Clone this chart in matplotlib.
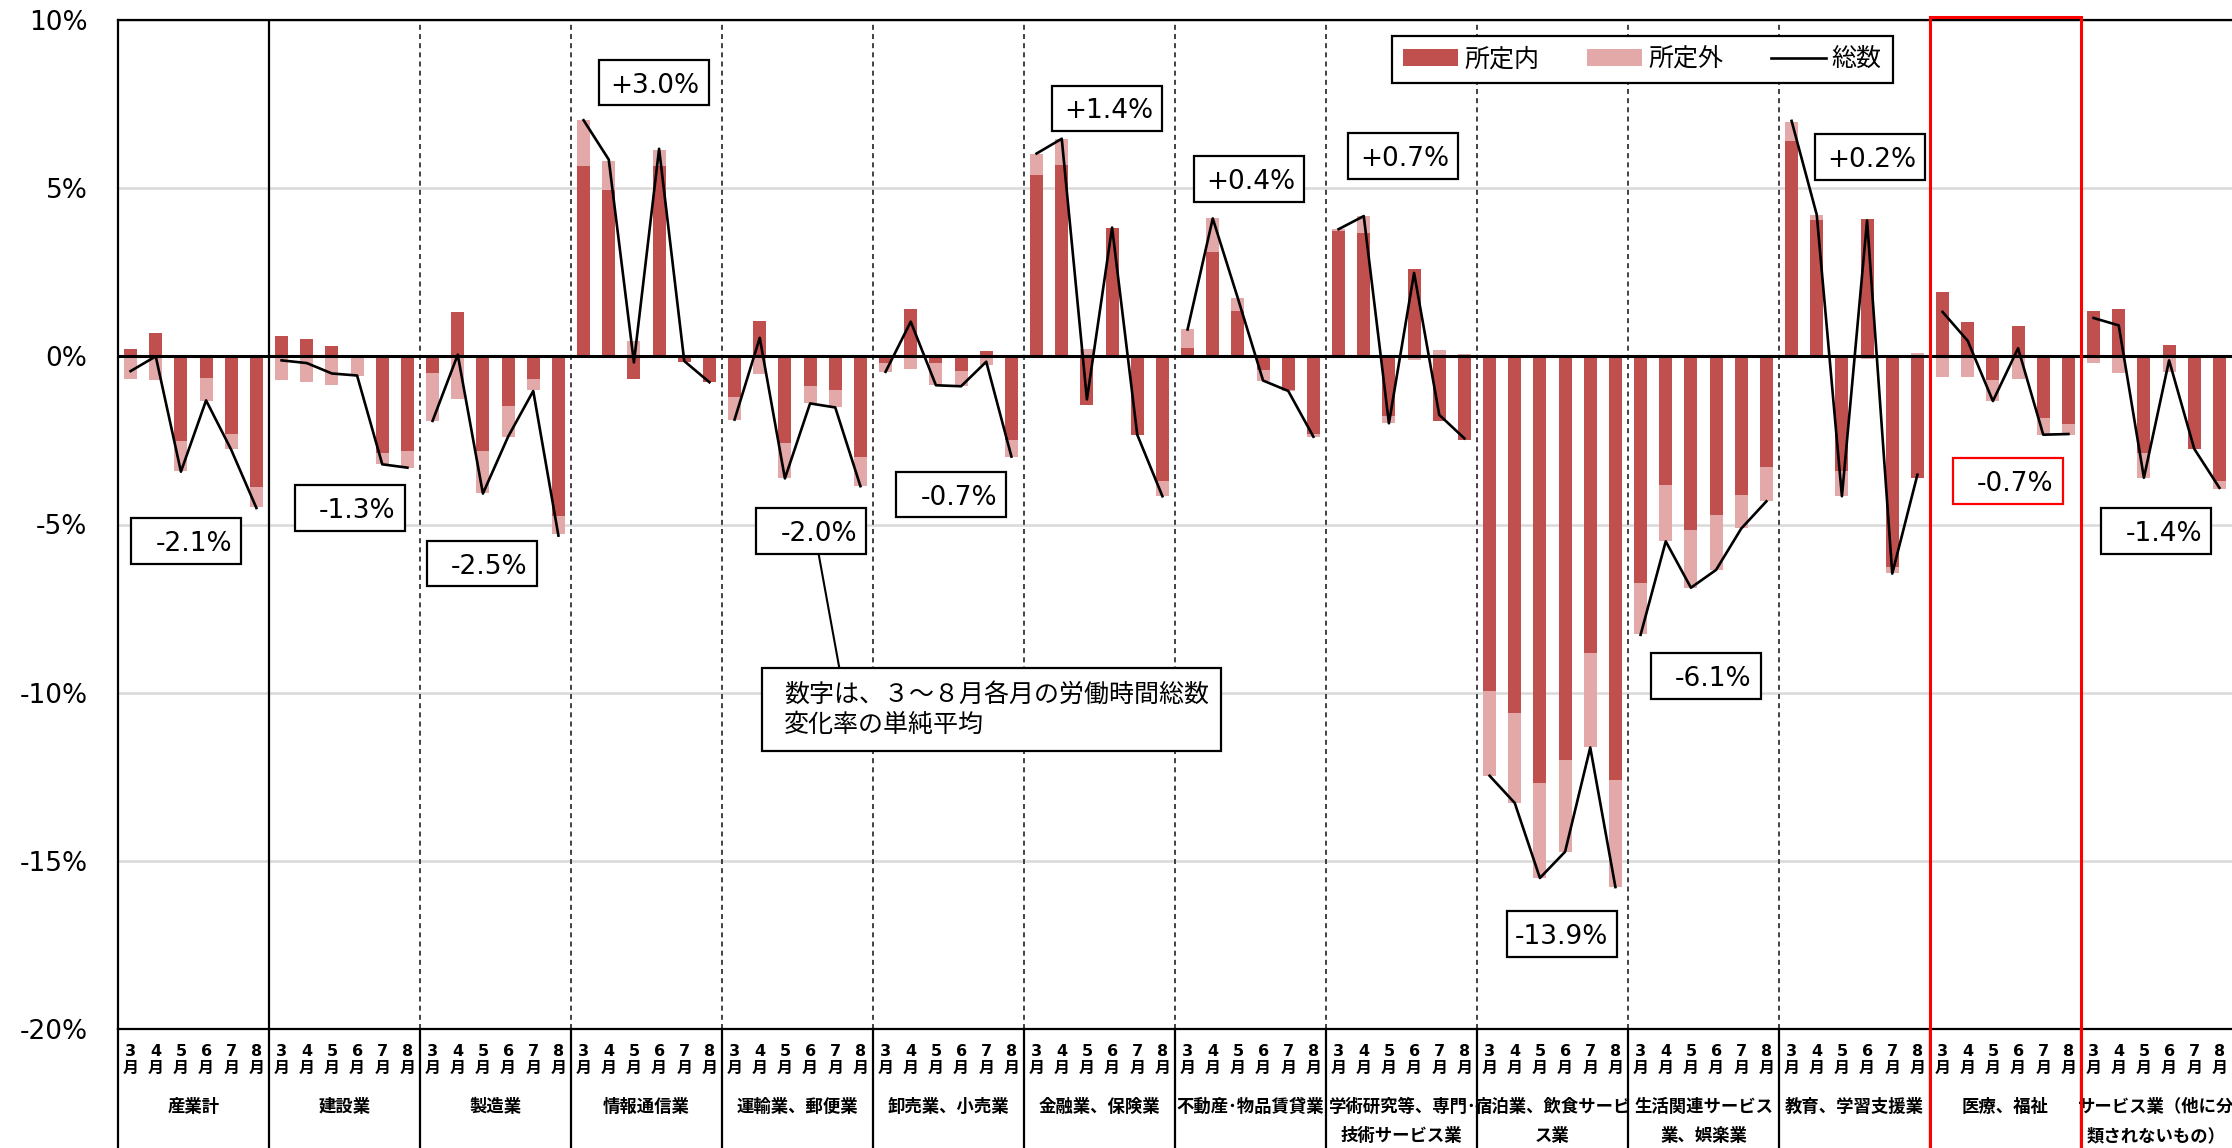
import numpy as np
import matplotlib
matplotlib.use('Agg')
import matplotlib.pyplot as plt
from matplotlib.patches import Rectangle

plt.rcParams['font.family'] = ['DejaVu Sans', 'Noto Sans CJK JP']

months = ['3', '4', '5', '6', '7', '8']
industries = ['産業計', '建設業', '製造業', '情報通信業', '運輸業、郵便業', '卸売業、小売業',
              '金融業、保険業', '不動産･物品賃貸業', '学術研究等、専門･\n技術サービス業',
              '宿泊業、飲食サービ\nス業', '生活関連サービス\n業、娯楽業', '教育、学習支援業',
              '医療、福祉', 'サービス業（他に分\n類されないもの）']

# 所定内 (scheduled hours), % change by month
shoteinai = [
    [0.21, 0.69, -2.52, -0.63, -2.30, -3.89],
    [0.59, 0.51, 0.32, -0.02, -2.87, -2.81],
    [-0.49, 1.31, -2.81, -1.48, -0.66, -4.76],
    [5.66, 4.94, -0.66, 5.66, -0.17, -0.77],
    [-1.20, 1.05, -2.58, -0.87, -1.00, -2.99],
    [-0.21, 1.40, -0.21, -0.43, 0.15, -2.50],
    [5.40, 5.69, -1.46, 3.83, -2.33, -3.72],
    [0.25, 3.10, 1.35, -0.41, -1.00, -2.31],
    [3.72, 3.67, -1.76, 2.59, -1.91, -2.50],
    [-9.95, -10.60, -12.69, -12.00, -8.82, -12.60],
    [-6.73, -3.82, -5.16, -4.73, -4.11, -3.29],
    [6.40, 4.06, -3.40, 4.08, -6.27, -3.63],
    [1.91, 1.03, -0.69, 0.89, -1.82, -2.02],
    [1.35, 1.40, -2.87, 0.35, -2.75, -3.72],
]
# 所定外 (overtime hours)
shoteigai = [
    [-0.66, -0.69, -0.88, -0.70, -0.45, -0.59],
    [-0.70, -0.75, -0.84, -0.55, -0.34, -0.50],
    [-1.43, -1.26, -1.25, -0.91, -0.34, -0.53],
    [1.36, 0.87, 0.45, 0.47, 0.03, 0.0],
    [-0.68, -0.52, -1.05, -0.53, -0.52, -0.87],
    [-0.25, -0.37, -0.65, -0.46, -0.27, -0.48],
    [0.63, 0.78, 0.21, 0.0, 0.04, -0.42],
    [0.55, 1.00, 0.37, -0.31, -0.03, -0.08],
    [0.06, 0.50, -0.21, -0.12, 0.18, 0.06],
    [-2.52, -2.68, -2.82, -2.73, -2.81, -3.18],
    [-1.53, -1.68, -1.72, -1.62, -0.99, -1.02],
    [0.58, 0.15, -0.74, -0.07, -0.17, 0.10],
    [-0.61, -0.60, -0.64, -0.66, -0.51, -0.31],
    [-0.20, -0.49, -0.74, -0.46, 0.0, -0.21],
]
# 総数 (total hours)
sousu = [
    [-0.44, 0.0, -3.43, -1.31, -2.78, -4.51],
    [-0.12, -0.20, -0.51, -0.57, -3.21, -3.31],
    [-1.92, 0.05, -4.08, -2.39, -1.03, -5.33],
    [7.02, 5.85, -0.18, 6.17, -0.14, -0.77],
    [-1.88, 0.55, -3.63, -1.40, -1.52, -3.86],
    [-0.46, 1.03, -0.86, -0.89, -0.16, -2.98],
    [6.03, 6.47, -1.28, 3.83, -2.33, -4.16],
    [0.80, 4.10, 1.72, -0.72, -1.03, -2.39],
    [3.78, 4.17, -1.99, 2.48, -1.74, -2.44],
    [-12.47, -13.28, -15.51, -14.73, -11.63, -15.78],
    [-8.28, -5.50, -6.88, -6.35, -5.12, -4.31],
    [7.00, 4.21, -4.16, 4.04, -6.46, -3.52],
    [1.32, 0.46, -1.33, 0.24, -2.33, -2.31],
    [1.14, 0.92, -3.61, -0.12, -2.75, -3.91],
]
avg_labels = ['-2.1%', '-1.3%', '-2.5%', '+3.0%', '-2.0%', '-0.7%', '+1.4%',
              '+0.4%', '+0.7%', '-13.9%', '-6.1%', '+0.2%', '-0.7%', '-1.4%']
# where the average boxes sit (slot, value)
avg_x = [2.22, 8.70, 13.95, 20.78, 27.04, 32.61, 38.79, 44.43, 50.55, 56.87, 62.58, 69.13, 74.58, 80.48]
avg_y = [-5.49, -4.50, -6.16, 8.14, -5.19, -4.11, 7.37, 5.27, 5.96, -17.18, -9.51, 5.93, -3.71, -5.19]
note = '数字は、３～８月各月の労働時間総数\n変化率の単純平均'

DARK = '#C0504D'
PINK = '#E2A9A8'
n_m = len(months)
n_g = len(industries)

fig = plt.figure(figsize=(22.32, 11.48), dpi=100)
ax = fig.add_axes([118/2232, 1 - 1029/1148, 2114/2232, 1009/1148])

handles = {}
for g in range(n_g):
    x = np.arange(n_m) + g*n_m
    d = np.array(shoteinai[g])
    p = np.array(shoteigai[g])
    bottom = np.where(np.sign(d) == np.sign(p), d, 0)
    b1 = ax.bar(x, d, width=0.52, color=DARK, zorder=2)
    b2 = ax.bar(x, p, bottom=bottom, width=0.52, color=PINK, zorder=2)
    ln, = ax.plot(x, sousu[g], color='black', lw=1.9, zorder=4)
    if g == 0:
        handles = {'所定内': b1, '所定外': b2, '総数': ln}

ax.set_xlim(-0.5, n_g*n_m - 0.5)
ax.set_ylim(-20, 10)
ax.axhline(0, color='black', lw=2.2, zorder=3)

ax.set_yticks(range(-20, 11, 5))
ax.set_yticklabels([f'{v}%' for v in range(-20, 11, 5)], fontsize=19)
ax.tick_params(axis='y', length=0, pad=22)
ax.set_xticks([])
ax.yaxis.grid(True, color='#D9D9D9', lw=1.8)
ax.set_axisbelow(True)
ax.spines['right'].set_visible(False)
for s in ['top', 'left', 'bottom']:
    ax.spines[s].set_linewidth(1.6)

xt = ax.get_xaxis_transform()
# group separators
for b in range(1, n_g):
    xb = b*n_m - 0.5
    if b == 1:
        ax.axvline(xb, color='black', lw=1.6, zorder=3)
    else:
        ax.axvline(xb, color='#222222', lw=1.2, ls=(0, (3, 2.5)), zorder=1)
    ax.plot([xb, xb], [0, -0.12], transform=xt, color='black', lw=1.6, clip_on=False)
ax.plot([-0.5, -0.5], [0, -0.12], transform=xt, color='black', lw=1.6, clip_on=False)

# highlight 医療、福祉
hi = industries.index('医療、福祉')
ax.add_patch(Rectangle((hi*n_m - 0.5, -0.12), n_m, 1.123, transform=xt, fill=False,
                       ec='#FF0000', lw=2.2, clip_on=False, zorder=6))

# month labels and industry names
for i in range(n_g*n_m):
    ax.text(i, -0.0307, months[i % n_m] + '\n月', transform=xt, ha='center', va='center',
            fontsize=11.5, fontweight='bold', linespacing=1.1)
for g, name in enumerate(industries):
    for k, line in enumerate(name.split('\n')):
        ax.text(g*n_m + 2.5, -0.0773 - k*0.0287, line, transform=xt, ha='center', va='center',
                fontsize=12.5, fontweight='bold', family=['Noto Sans CJK JP', 'DejaVu Sans'])

# average boxes
bw, bh = 4.37, 1.36
for g in range(n_g):
    ec = '#FF0000' if g == hi else 'black'
    ax.add_patch(Rectangle((avg_x[g] - bw/2, avg_y[g] - bh/2), bw, bh, fc='white', ec=ec,
                           lw=1.6, zorder=6))
    ax.text(avg_x[g] + bw/2 - 0.35, avg_y[g], avg_labels[g], ha='right', va='center_baseline',
            fontsize=19, zorder=7)

# note box with leader line
ax.plot([27.34, 28.16], [-5.88, -9.26], color='black', lw=1.5, zorder=5)
ax.add_patch(Rectangle((25.1, -11.74), 18.24, 2.48, fc='white', ec='black', lw=1.6, zorder=6))
ax.text(25.97, -10.5, note, ha='left', va='center', fontsize=18, linespacing=1.2, zorder=7,
        family=['Noto Sans CJK JP', 'DejaVu Sans'])

leg = ax.legend(list(handles.values()), list(handles.keys()), loc='upper right',
                bbox_to_anchor=(1893/2232, 1 - 36/1148),
                bbox_transform=fig.transFigure, ncol=3, fontsize=18, fancybox=False,
                edgecolor='black', framealpha=1, handlelength=2.2, handletextpad=0.25,
                columnspacing=1.9, borderpad=0.45, borderaxespad=0)
leg.get_frame().set_linewidth(1.6)
leg.set_zorder(8)

fig.savefig('out.png', dpi=100)
